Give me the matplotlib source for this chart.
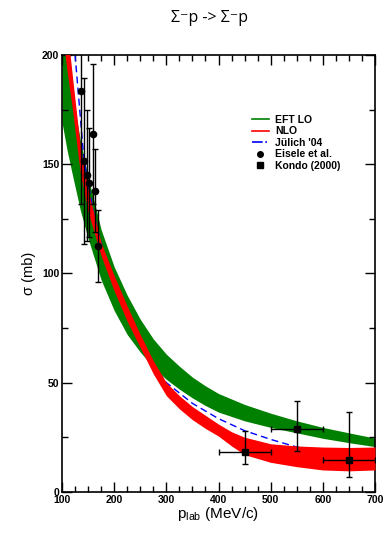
import numpy as np
import matplotlib
matplotlib.use("Agg")
import matplotlib.pyplot as plt
from matplotlib.lines import Line2D
from matplotlib.ticker import MultipleLocator

plt.rcParams['font.family'] = ['Liberation Sans', 'DejaVu Sans']
plt.rcParams['mathtext.fontset'] = 'custom'
plt.rcParams['mathtext.rm'] = 'Liberation Sans'

# band grid (p_lab in MeV/c)
p_band = [100, 110, 120, 135, 150, 175, 200, 225, 250, 275, 300, 325, 350, 375,
          400, 425, 450, 500, 550, 600, 650, 700]

# EFT LO band (green)
lo_low = [169, 156, 145, 129, 116, 97, 83, 72, 64, 57, 51.5, 47, 43, 39.5,
          36.5, 34.5, 32.5, 29.5, 27, 24.5, 22.5, 20.7]
lo_high = [212, 196, 182, 161, 144, 120, 103, 90, 79, 70, 63, 57.5, 52.5, 48.5,
           45, 42.5, 40, 36, 32.5, 29.5, 27, 24.6]

# NLO band (red)
nlo_low = [211, 192, 175, 146, 128, 108, 92, 78, 66, 54, 44, 38, 33, 29,
           25.5, 21, 17, 13.5, 11.5, 10, 9.6, 10]
nlo_high = [232, 212, 190, 158, 138, 114, 99, 85, 72, 60, 50, 44, 39, 35,
            31, 27.5, 25, 22, 21, 20.5, 20.3, 20.5]

# Juelich '04
p_jul = [100, 110, 125, 142, 160, 180, 200, 225, 250, 275, 300, 350, 400, 450, 500, 550, 600, 650, 700]
sig_jul = [265, 240, 200, 152, 128, 109, 96, 80, 68, 58, 50, 40.5, 33.5, 28, 24, 20.5, 19, 18, 17.5]

# Eisele et al.
p_eis = [136.4, 141.5, 147.2, 152.3, 158.8, 163.2, 168.3]
sig_eis = [183.6, 151.6, 145, 141.6, 163.7, 137.8, 112.6]
err_eis = [52, 38, 30, 25, 32, 19, 16.5]

# Kondo (2000)
p_kon = [450, 550, 650]
dp_kon = [50, 50, 50]
sig_kon = [18.3, 28.7, 14.5]
err_kon_lo = [5.5, 9.9, 7.8]
err_kon_hi = [9.7, 12.9, 22]

fig = plt.figure(figsize=(3.83, 5.34), dpi=100)
ax = fig.add_axes([0.162, 0.079, 0.817, 0.818])

ax.fill_between(p_band, lo_low, lo_high, color='#008000', lw=0, zorder=1)
ax.plot(p_jul, sig_jul, color='#0000ff', lw=1.0, ls=(0, (5, 3)), zorder=2)
ax.fill_between(p_band, nlo_low, nlo_high, color='#ff0000', lw=0, zorder=3)

ax.errorbar(p_eis, sig_eis, yerr=err_eis, fmt='o', color='black', ms=4.5,
            elinewidth=1, capsize=2.5, capthick=1, zorder=5)
ax.errorbar(p_kon, sig_kon, xerr=dp_kon, yerr=[err_kon_lo, err_kon_hi], fmt='s',
            color='black', ms=4.5, elinewidth=1, capsize=2.5, capthick=1, zorder=5)

ax.set_xlim(100, 700)
ax.set_ylim(0, 200)
ax.xaxis.set_major_locator(MultipleLocator(100))
ax.xaxis.set_minor_locator(MultipleLocator(25))
ax.yaxis.set_major_locator(MultipleLocator(50))
ax.yaxis.set_minor_locator(MultipleLocator(25))
ax.tick_params(which='both', direction='in', top=True, right=True, width=1)
ax.tick_params(which='major', length=7, labelsize=7.5, pad=2)
ax.tick_params(which='minor', length=4)
for lab in ax.get_xticklabels() + ax.get_yticklabels():
    lab.set_fontweight('bold')
for s in ax.spines.values():
    s.set_linewidth(1.2)

ax.set_xlabel(r'p$_{\mathregular{lab}}$ (MeV/c)', fontsize=11, labelpad=0)
ax.set_ylabel('σ (mb)', fontsize=10.5, labelpad=4)

handles = [
    Line2D([], [], color='#008000', lw=1.2),
    Line2D([], [], color='#ff0000', lw=1.2),
    Line2D([], [], color='#0000ff', lw=1.2, ls='-.'),
    Line2D([], [], color='black', marker='o', ls='none', ms=4),
    Line2D([], [], color='black', marker='s', ls='none', ms=4),
]
labels = ['EFT LO', 'NLO', "Jülich '04", 'Eisele et al.', 'Kondo (2000)']
ax.legend(handles, labels, loc='upper left', bbox_to_anchor=(0.59, 0.875),
          frameon=False, handlelength=1.6, handletextpad=0.6,
          labelspacing=0.15, borderpad=0, prop={'weight': 'bold', 'size': 7.5})

fig.text(0.548, 0.966, 'Σ⁻p -> Σ⁻p', ha='center', va='center', fontsize=11.5,
         family=['Open Sans', 'DejaVu Sans'])

fig.savefig('out.png', dpi=100)
